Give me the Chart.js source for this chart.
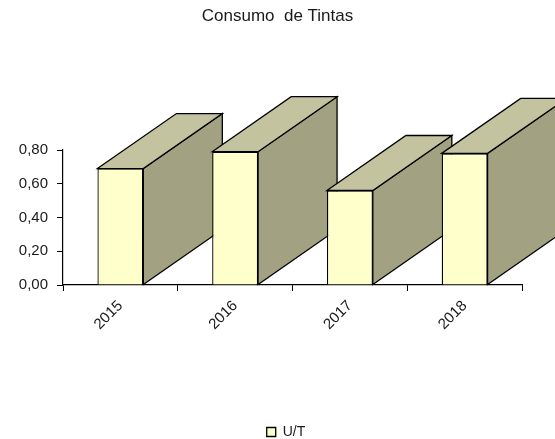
<!DOCTYPE html>
<html>
<head>
<meta charset="utf-8">
<script src="https://cdn.jsdelivr.net/npm/chart.js@4"></script>
<style>
  html, body { margin: 0; padding: 0; background: #fff; }
  #wrap { width: 555px; height: 439px; position: relative; }
</style>
</head>
<body>
<div id="wrap"><canvas id="c" width="555" height="439"></canvas></div>
<script>
// Chart content
const chartTitle = 'Consumo  de Tintas';
const years = ['2015', '2016', '2017', '2018'];
const seriesName = 'U/T';
const consumo = [0.69, 0.79, 0.56, 0.78];
const yTicks = [0, 0.2, 0.4, 0.6, 0.8];

const FONT = "'Liberation Sans', Arial, sans-serif";
const INK = '#1a1a1a';

// Extruded 3D look: side and top faces drawn behind each front face
const depthBlocks = {
  id: 'depthBlocks',
  beforeDatasetsDraw(chart) {
    const ctx = chart.ctx;
    const dx = 79, dy = 55;
    chart.getDatasetMeta(0).data.forEach(bar => {
      const { x, y, base, width } = bar.getProps(['x', 'y', 'base', 'width'], true);
      const l = x - width / 2, r = x + width / 2;
      ctx.save();
      ctx.lineWidth = 1.3;
      ctx.strokeStyle = '#000';
      ctx.lineJoin = 'miter';
      // side face
      ctx.beginPath();
      ctx.moveTo(r, y);
      ctx.lineTo(r + dx, y - dy);
      ctx.lineTo(r + dx, base - dy);
      ctx.lineTo(r, base);
      ctx.closePath();
      ctx.fillStyle = '#A2A282';
      ctx.fill();
      ctx.stroke();
      // top face
      ctx.beginPath();
      ctx.moveTo(l, y);
      ctx.lineTo(l + dx, y - dy);
      ctx.lineTo(r + dx, y - dy);
      ctx.lineTo(r, y);
      ctx.closePath();
      ctx.fillStyle = '#C3C3A0';
      ctx.fill();
      ctx.stroke();
      ctx.restore();
    });
  }
};

// Title centred on the page, legend a little right of centre and near the bottom edge
const blockPlacement = {
  id: 'blockPlacement',
  afterLayout(chart) {
    const t = chart.titleBlock, lg = chart.legend;
    t.left += 16.5; t.right += 16.5;
    lg.left += 25; lg.right += 25;
    lg.top += 10; lg.bottom += 10;
  }
};

const chart = new Chart(document.getElementById('c'), {
  type: 'bar',
  data: {
    labels: years,
    datasets: [{
      label: seriesName,
      data: consumo,
      backgroundColor: '#FFFFCC',
      borderColor: '#000',
      borderWidth: 1.3,
      barPercentage: 0.4,
      categoryPercentage: 1.0
    }]
  },
  options: {
    responsive: false,
    animation: false,
    layout: { padding: { left: 0, right: 33, top: 0, bottom: 0 } },
    plugins: {
      title: {
        display: true,
        text: chartTitle,
        color: INK,
        font: { family: FONT, size: 17, weight: 'normal' },
        padding: { top: 6, bottom: 123.6 }
      },
      legend: {
        display: true,
        position: 'bottom',
        labels: {
          color: INK,
          font: { family: FONT, size: 14 },
          boxWidth: 9,
          boxHeight: 9,
          padding: 0
        }
      },
      tooltip: { enabled: false }
    },
    scales: {
      x: {
        offset: true,
        grid: { display: true, offset: true, drawOnChartArea: false, color: '#000', tickLength: 6 },
        border: { display: true, color: '#000', width: 1.2 },
        ticks: { color: INK, font: { family: FONT, size: 15 }, minRotation: 45, maxRotation: 45, padding: 6 },
        afterFit(scale) { scale.height = 130; }
      },
      y: {
        min: 0,
        max: 0.8,
        afterBuildTicks(scale) { scale.ticks = yTicks.map(v => ({ value: v })); },
        grid: { display: true, drawOnChartArea: false, color: '#000', tickLength: 6 },
        border: { display: true, color: '#000', width: 1.2 },
        ticks: {
          color: INK,
          font: { family: FONT, size: 15 },
          padding: 9,
          callback: v => v.toFixed(2).replace('.', ',')
        },
        afterFit(scale) { scale.width = 63; }
      }
    }
  },
  plugins: [depthBlocks, blockPlacement]
});
</script>
</body>
</html>
